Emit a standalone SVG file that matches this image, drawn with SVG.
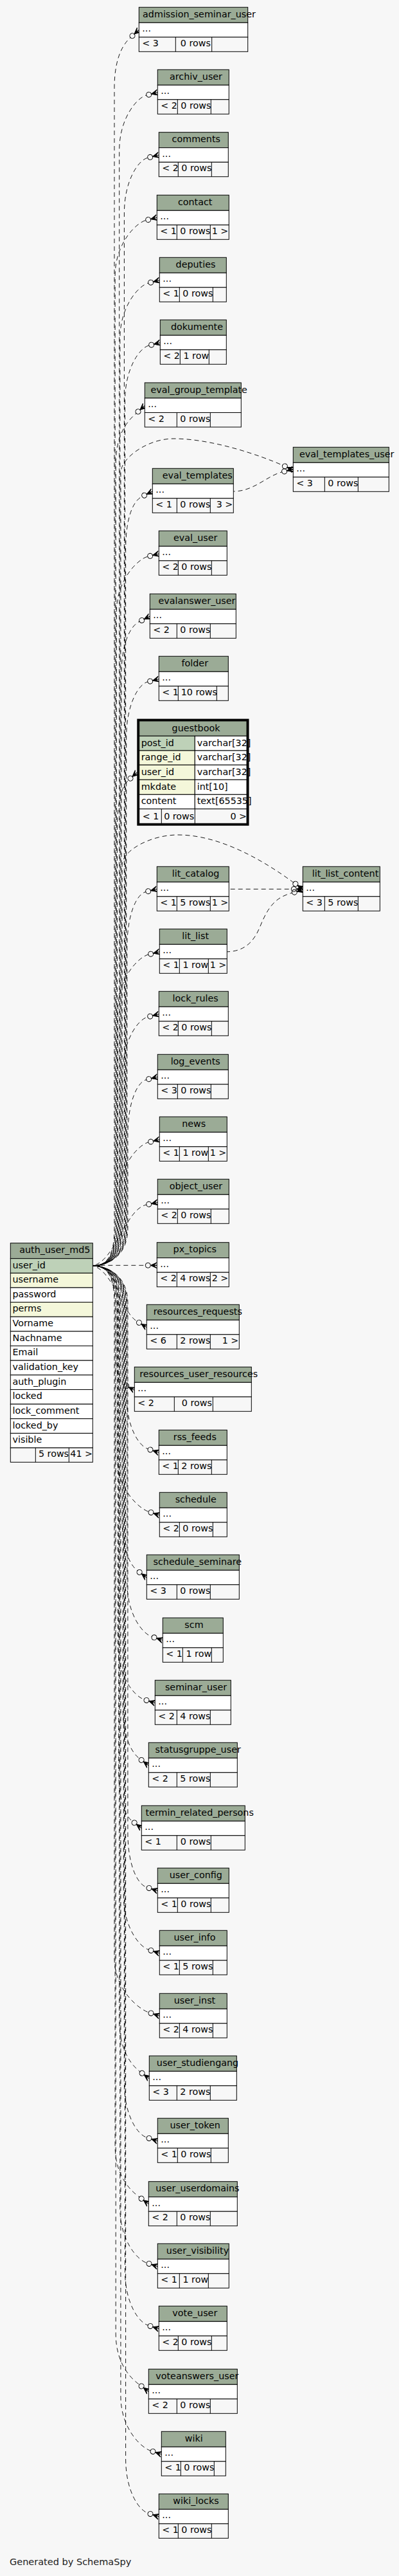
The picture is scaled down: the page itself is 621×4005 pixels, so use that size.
<svg xmlns="http://www.w3.org/2000/svg" width="621" height="4005" viewBox="0 0 621 4005">
<defs>
<style>
.hd{fill:#9bab96;stroke:#000;stroke-width:1}
.bd{fill:#fff;stroke:#000;stroke-width:1}
.ft{fill:#f7f7f7;stroke:#000;stroke-width:1}
.pk{fill:#bed1b8;stroke:#000;stroke-width:1}
.ix{fill:#f4f7da;stroke:#000;stroke-width:1}
.dv{fill:none;stroke:#000;stroke-width:1}
text{font-family:"DejaVu Sans","Liberation Sans",sans-serif;font-size:14.3px;fill:#000}
.m{text-anchor:middle}
.r{text-anchor:end}
.e{fill:none;stroke:#000;stroke-width:0.9;stroke-dasharray:7,5;marker-end:url(#cf)}
#connectors path:nth-child(5n+1){stroke-dashoffset:0}
#connectors path:nth-child(5n+2){stroke-dashoffset:4.8}
#connectors path:nth-child(5n+3){stroke-dashoffset:9.6}
#connectors path:nth-child(5n+4){stroke-dashoffset:2.4}
#connectors path:nth-child(5n){stroke-dashoffset:7.2}
</style>
<marker id="cf" viewBox="-1 -6 21 12" markerWidth="21" markerHeight="12" refX="0" refY="0" orient="auto" markerUnits="userSpaceOnUse" overflow="visible">
<circle cx="4" cy="0" r="4" fill="none" stroke="#000" stroke-width="1" stroke-dasharray="none"/>
<polygon points="8,0 18,-4.5 13,0 18,0 13,0 18,4.5" fill="#000" stroke="#000" stroke-width="1" stroke-dasharray="none"/>
</marker>
</defs>
<rect width="621" height="4005" fill="#f7f7f7"/>

<g id="connectors">
<path class="e" d="M144.3,1968 C165,1968 178,1955 178,1910 L178,136.3 C178,86.3 194.1,66.4 203,58.4"/>
<path class="e" d="M144.3,1968 C165,1968 185.7,1955 185.7,1910 L185.7,233.8 C185.7,183.8 213.3,151.7 227.8,148.1"/>
<path class="e" d="M144.3,1968 C165,1968 193.4,1955 193.4,1910 L193.4,331 C193.4,281 215.3,248.9 229.8,245.3"/>
<path class="e" d="M144.3,1968 C165,1968 179.1,1955 179.1,1910 L179.1,428.3 C179.1,378.3 212.3,346.2 226.8,342.6"/>
<path class="e" d="M144.3,1968 C165,1968 186.8,1955 186.8,1910 L186.8,525.8 C186.8,475.8 216.3,443.7 230.8,440.1"/>
<path class="e" d="M144.3,1968 C165,1968 194.5,1955 194.5,1910 L194.5,622.8 C194.5,572.8 217.3,540.7 231.8,537.1"/>
<path class="e" d="M144.3,1968 C165,1968 180.2,1955 180.2,1910 L180.2,720.5 C180.2,670.5 203.1,650.6 212,642.6"/>
<path class="e" d="M144.3,1968 C165,1968 187.9,1955 187.9,1910 L187.9,735 C187.9,712 230,682 270,682 C330,682 405,708 439.7,723.3"/>
<path class="e" d="M144.3,1968 C165,1968 195.6,1955 195.6,1910 L195.6,854 C195.6,804 207.6,778.5 221.1,771.9"/>
<path class="e" d="M144.3,1968 C165,1968 181.3,1955 181.3,1910 L181.3,951 C181.3,901 215.3,868.9 229.8,865.3"/>
<path class="e" d="M144.3,1968 C165,1968 189,1955 189,1910 L189,1048.3 C189,998.3 203.6,972.8 217.1,966.2"/>
<path class="e" d="M144.3,1968 C165,1968 196.7,1955 196.7,1910 L196.7,1145.8 C196.7,1095.8 215.3,1063.7 229.8,1060.1"/>
<path class="e" d="M144.3,1968 C165,1968 182.4,1955 182.4,1910 L182.4,1290.8 C182.4,1240.8 191.1,1220.9 200,1212.9"/>
<path class="e" d="M144.3,1968 C165,1968 190.1,1955 190.1,1910 L190.1,1345 C190.1,1322 235,1298 277,1298 C355,1298 433.5,1355.5 456.6,1371.9"/>
<path class="e" d="M144.3,1968 C165,1968 197.8,1955 197.8,1910 L197.8,1472.3 C197.8,1422.3 212.3,1390.2 226.8,1386.6"/>
<path class="e" d="M144.3,1968 C165,1968 183.5,1955 183.5,1910 L183.5,1569.8 C183.5,1519.8 216.3,1487.7 230.8,1484.1"/>
<path class="e" d="M144.3,1968 C165,1968 191.2,1955 191.2,1910 L191.2,1666.8 C191.2,1616.8 215.3,1584.7 229.8,1581.1"/>
<path class="e" d="M144.3,1968 C165,1968 198.9,1955 198.9,1910 L198.9,1764.3 C198.9,1714.3 213.3,1682.2 227.8,1678.6"/>
<path class="e" d="M144.3,1968 C165,1968 184.6,1955 184.6,1910 L184.6,1861.7 C184.6,1811.7 216.3,1779.6 230.8,1776"/>
<path class="e" d="M144.3,1968 C180,1960 195,1880 227.8,1873.1"/>
<path class="e" d="M144.3,1967.3 L226.3,1967.3"/>
<path class="e" d="M144.3,1968 C175,1975 190,2040 213,2054.2"/>
<path class="e" d="M144.3,1968 C165,1968 182,1981 182,2026 L182,2100 C182,2125 180,2146 193.1,2152.9"/>
<path class="e" d="M144.3,1968 C165,1968 196.7,1981 196.7,2026 L196.7,2168.3 C196.7,2218.3 216,2248 230.2,2252.7"/>
<path class="e" d="M144.3,1968 C165,1968 182.4,1981 182.4,2026 L182.4,2265.8 C182.4,2315.8 217,2345.6 231.2,2350.2"/>
<path class="e" d="M144.3,1968 C165,1968 190.1,1981 190.1,2026 L190.1,2362.8 C190.1,2412.8 204.3,2434.8 213.9,2442"/>
<path class="e" d="M144.3,1968 C165,1968 197.8,1981 197.8,2026 L197.8,2460.2 C197.8,2510.2 222,2540 236.2,2544.6"/>
<path class="e" d="M144.3,1968 C165,1968 183.5,1981 183.5,2026 L183.5,2557.8 C183.5,2607.8 210,2637.6 224.2,2642.2"/>
<path class="e" d="M144.3,1968 C165,1968 191.2,1981 191.2,2026 L191.2,2654.8 C191.2,2704.8 207.3,2726.8 216.9,2734"/>
<path class="e" d="M144.3,1968 C165,1968 184.6,1981 184.6,2026 L184.6,2752.3 C184.6,2802.3 196.3,2824.3 205.9,2831.5"/>
<path class="e" d="M144.3,1968 C165,1968 198.9,1981 198.9,2026 L198.9,2849.8 C198.9,2899.8 214,2929.6 228.2,2934.2"/>
<path class="e" d="M144.3,1968 C165,1968 192.3,1981 192.3,2026 L192.3,2946.8 C192.3,2996.8 217,3026.6 231.2,3031.2"/>
<path class="e" d="M144.3,1968 C165,1968 178,1981 178,2026 L178,3044.3 C178,3094.3 217,3124.1 231.2,3128.7"/>
<path class="e" d="M144.3,1968 C165,1968 185.7,1981 185.7,2026 L185.7,3141.7 C185.7,3191.7 208.3,3213.7 217.9,3220.9"/>
<path class="e" d="M144.3,1968 C165,1968 193.4,1981 193.4,2026 L193.4,3238.8 C193.4,3288.8 214,3318.6 228.2,3323.2"/>
<path class="e" d="M144.3,1968 C165,1968 179.1,1981 179.1,2026 L179.1,3336.7 C179.1,3386.7 207.3,3408.7 216.9,3415.9"/>
<path class="e" d="M144.3,1968 C165,1968 186.8,1981 186.8,2026 L186.8,3433.8 C186.8,3483.8 214,3513.6 228.2,3518.2"/>
<path class="e" d="M144.3,1968 C165,1968 194.5,1981 194.5,2026 L194.5,3530.8 C194.5,3580.8 216,3610.6 230.2,3615.2"/>
<path class="e" d="M144.3,1968 C165,1968 180.2,1981 180.2,2026 L180.2,3628.3 C180.2,3678.3 207.3,3700.3 216.9,3707.5"/>
<path class="e" d="M144.3,1968 C165,1968 187.9,1981 187.9,2026 L187.9,3725.8 C187.9,3775.8 220,3805.6 234.2,3810.2"/>
<path class="e" d="M144.3,1968 C165,1968 195.6,1981 195.6,2026 L195.6,3822.8 C195.6,3872.8 216,3902.6 230.2,3907.2"/>
<path class="e" d="M363.3,764 C395,764 415,740 438.7,733.9"/>
<path class="e" d="M356.3,1382.3 L453.3,1382.3"/>
<path class="e" d="M353.3,1479.8 C380,1479 395,1465 405,1440 C418,1408 430,1395 454.4,1388.2"/>
</g>

<g id="auth_user_md5">
<rect class="hd" x="16.3" y="1932.7" width="128" height="24"/>
<rect class="pk" x="16.3" y="1956.7" width="128" height="22.64"/>
<rect class="ix" x="16.3" y="1979.34" width="128" height="22.64"/>
<rect class="bd" x="16.3" y="2001.98" width="128" height="22.64"/>
<rect class="ix" x="16.3" y="2024.62" width="128" height="22.64"/>
<rect class="bd" x="16.3" y="2047.26" width="128" height="22.64"/>
<rect class="bd" x="16.3" y="2069.9" width="128" height="22.64"/>
<rect class="bd" x="16.3" y="2092.54" width="128" height="22.64"/>
<rect class="bd" x="16.3" y="2115.18" width="128" height="22.64"/>
<rect class="bd" x="16.3" y="2137.82" width="128" height="22.64"/>
<rect class="bd" x="16.3" y="2160.46" width="128" height="22.64"/>
<rect class="bd" x="16.3" y="2183.1" width="128" height="22.64"/>
<rect class="bd" x="16.3" y="2205.74" width="128" height="22.64"/>
<rect class="bd" x="16.3" y="2228.38" width="128" height="22.64"/>
<rect class="ft" x="16.3" y="2251.02" width="128" height="22.3"/>
<path class="dv" d="M55.3,2251V2273.3M107.3,2251V2273.3"/>
<text class="m" x="85.3" y="1948.2">auth_user_md5</text>
<text x="19.5" y="1971.5">user_id</text>
<text x="19.5" y="1994.1">username</text>
<text x="19.5" y="2016.8">password</text>
<text x="19.5" y="2039.4">perms</text>
<text x="19.5" y="2062.1">Vorname</text>
<text x="19.5" y="2084.7">Nachname</text>
<text x="19.5" y="2107.3">Email</text>
<text x="19.5" y="2130">validation_key</text>
<text x="19.5" y="2152.6">auth_plugin</text>
<text x="19.5" y="2175.3">locked</text>
<text x="19.5" y="2197.9">lock_comment</text>
<text x="19.5" y="2220.5">locked_by</text>
<text x="19.5" y="2243.2">visible</text>
<text class="m" x="83.5" y="2265.3">5 rows</text>
<text class="r" x="144" y="2265.3">41 &gt;</text>
</g>

<g id="guestbook">
<rect class="hd" x="216.7" y="1121" width="167.3" height="23.3"/>
<rect class="pk" x="216.7" y="1144.3" width="86.6" height="22.7"/>
<rect class="bd" x="303.3" y="1144.3" width="80.7" height="22.7"/>
<rect class="ix" x="216.7" y="1167" width="86.6" height="22.3"/>
<rect class="bd" x="303.3" y="1167" width="80.7" height="22.3"/>
<rect class="ix" x="216.7" y="1189.3" width="86.6" height="23"/>
<rect class="bd" x="303.3" y="1189.3" width="80.7" height="23"/>
<rect class="ix" x="216.7" y="1212.3" width="86.6" height="23"/>
<rect class="bd" x="303.3" y="1212.3" width="80.7" height="23"/>
<rect class="bd" x="216.7" y="1235.3" width="86.6" height="22.4"/>
<rect class="bd" x="303.3" y="1235.3" width="80.7" height="22.4"/>
<rect class="ft" x="216.7" y="1257.7" width="167.3" height="22.6"/>
<path class="dv" d="M251.3,1257.7V1280.3M303.3,1257.7V1280.3"/>
<text class="m" x="305" y="1136.5">guestbook</text>
<text x="219.7" y="1159.5">post_id</text>
<text x="306.7" y="1159.5">varchar[32]</text>
<text x="219.7" y="1182">range_id</text>
<text x="306.7" y="1182">varchar[32]</text>
<text x="219.7" y="1204.5">user_id</text>
<text x="306.7" y="1204.5">varchar[32]</text>
<text x="219.7" y="1227.5">mkdate</text>
<text x="306.7" y="1227.5">int[10]</text>
<text x="219.7" y="1250">content</text>
<text x="306.7" y="1250">text[65535]</text>
<text x="221.7" y="1273.5">&lt; 1</text>
<text class="m" x="278.7" y="1273.5">0 rows</text>
<text class="r" x="384" y="1273.5">0 &gt;</text>
<rect x="215" y="1119.3" width="170.8" height="162.7" fill="none" stroke="#000" stroke-width="3.4"/>
</g>

<g id="admission_seminar_user" transform="translate(216.3,11.3)"><rect class="hd" width="169.4" height="24"/><rect class="bd" y="24" width="169.4" height="22.5"/><rect class="ft" y="46.5" width="169.4" height="22.5"/><path class="dv" d="M57,46.5V69M113.4,46.5V69"/><text class="m" x="93.7" y="15.5">admission_seminar_user</text><text x="5" y="38">...</text><text x="5" y="60.5">&lt; 3</text><text class="m" x="88" y="60.5">0 rows</text></g>
<g id="archiv_user" transform="translate(245.3,108.3)"><rect class="hd" width="111" height="24"/><rect class="bd" y="24" width="111" height="22.5"/><rect class="ft" y="46.5" width="111" height="22.5"/><path class="dv" d="M31,46.5V69M83,46.5V69"/><text class="m" x="59.7" y="15.5">archiv_user</text><text x="5" y="38">...</text><text x="5" y="60.5">&lt; 2</text><text class="m" x="59.5" y="60.5">0 rows</text></g>
<g id="comments" transform="translate(247.3,205.7)"><rect class="hd" width="108" height="24"/><rect class="bd" y="24" width="108" height="22.5"/><rect class="ft" y="46.5" width="108" height="22.5"/><path class="dv" d="M30,46.5V69M82,46.5V69"/><text class="m" x="58" y="15.5">comments</text><text x="5" y="38">...</text><text x="5" y="60.5">&lt; 2</text><text class="m" x="58.5" y="60.5">0 rows</text></g>
<g id="contact" transform="translate(244.3,303.3)"><rect class="hd" width="112" height="24"/><rect class="bd" y="24" width="112" height="22.5"/><rect class="ft" y="46.5" width="112" height="22.5"/><path class="dv" d="M31,46.5V69M83,46.5V69"/><text class="m" x="59.4" y="15.5">contact</text><text x="5" y="38">...</text><text x="5" y="60.5">&lt; 1</text><text class="m" x="59.5" y="60.5">0 rows</text><text class="r" x="111" y="60.5">1 &gt;</text></g>
<g id="deputies" transform="translate(248.3,400.3)"><rect class="hd" width="104" height="24"/><rect class="bd" y="24" width="104" height="22.5"/><rect class="ft" y="46.5" width="104" height="22.5"/><path class="dv" d="M31,46.5V69M83,46.5V69"/><text class="m" x="56.2" y="15.5">deputies</text><text x="5" y="38">...</text><text x="5" y="60.5">&lt; 1</text><text class="m" x="59.5" y="60.5">0 rows</text></g>
<g id="dokumente" transform="translate(249.3,497.3)"><rect class="hd" width="103" height="24"/><rect class="bd" y="24" width="103" height="22.5"/><rect class="ft" y="46.5" width="103" height="22.5"/><path class="dv" d="M31,46.5V69M76,46.5V69"/><text class="m" x="57.2" y="15.5">dokumente</text><text x="5" y="38">...</text><text x="5" y="60.5">&lt; 2</text><text class="m" x="56" y="60.5">1 row</text></g>
<g id="eval_group_template" transform="translate(225.3,595)"><rect class="hd" width="150" height="24"/><rect class="bd" y="24" width="150" height="22.5"/><rect class="ft" y="46.5" width="150" height="22.5"/><path class="dv" d="M50,46.5V69M102,46.5V69"/><text class="m" x="84.4" y="15.5">eval_group_template</text><text x="5" y="38">...</text><text x="5" y="60.5">&lt; 2</text><text class="m" x="78.5" y="60.5">0 rows</text></g>
<g id="eval_templates_user" transform="translate(456.3,695.3)"><rect class="hd" width="149" height="24"/><rect class="bd" y="24" width="149" height="22.5"/><rect class="ft" y="46.5" width="149" height="22.5"/><path class="dv" d="M49,46.5V69M101,46.5V69"/><text class="m" x="83.4" y="15.5">eval_templates_user</text><text x="5" y="38">...</text><text x="5" y="60.5">&lt; 3</text><text class="m" x="77.5" y="60.5">0 rows</text></g>
<g id="eval_templates" transform="translate(237.3,728.3)"><rect class="hd" width="126" height="24"/><rect class="bd" y="24" width="126" height="22.5"/><rect class="ft" y="46.5" width="126" height="22.5"/><path class="dv" d="M38,46.5V69M90,46.5V69"/><text class="m" x="69.9" y="15.5">eval_templates</text><text x="5" y="38">...</text><text x="5" y="60.5">&lt; 1</text><text class="m" x="66.5" y="60.5">0 rows</text><text class="r" x="125" y="60.5">3 &gt;</text></g>
<g id="eval_user" transform="translate(247.3,825.3)"><rect class="hd" width="106" height="24"/><rect class="bd" y="24" width="106" height="22.5"/><rect class="ft" y="46.5" width="106" height="22.5"/><path class="dv" d="M30,46.5V69M82,46.5V69"/><text class="m" x="56.9" y="15.5">eval_user</text><text x="5" y="38">...</text><text x="5" y="60.5">&lt; 2</text><text class="m" x="58.5" y="60.5">0 rows</text></g>
<g id="evalanswer_user" transform="translate(233.3,923.3)"><rect class="hd" width="134" height="24"/><rect class="bd" y="24" width="134" height="22.5"/><rect class="ft" y="46.5" width="134" height="22.5"/><path class="dv" d="M42,46.5V69M94,46.5V69"/><text class="m" x="73.2" y="15.5">evalanswer_user</text><text x="5" y="38">...</text><text x="5" y="60.5">&lt; 2</text><text class="m" x="70.5" y="60.5">0 rows</text></g>
<g id="folder" transform="translate(247.3,1020.3)"><rect class="hd" width="108" height="24"/><rect class="bd" y="24" width="108" height="22.5"/><rect class="ft" y="46.5" width="108" height="22.5"/><path class="dv" d="M30,46.5V69M90,46.5V69"/><text class="m" x="56" y="15.5">folder</text><text x="5" y="38">...</text><text x="5" y="60.5">&lt; 1</text><text class="m" x="62.5" y="60.5">10 rows</text></g>
<g id="lit_catalog" transform="translate(244.3,1347.3)"><rect class="hd" width="112" height="24"/><rect class="bd" y="24" width="112" height="22.5"/><rect class="ft" y="46.5" width="112" height="22.5"/><path class="dv" d="M31,46.5V69M83,46.5V69"/><text class="m" x="60.2" y="15.5">lit_catalog</text><text x="5" y="38">...</text><text x="5" y="60.5">&lt; 1</text><text class="m" x="59.5" y="60.5">5 rows</text><text class="r" x="111" y="60.5">1 &gt;</text></g>
<g id="lit_list_content" transform="translate(471.3,1347.3)"><rect class="hd" width="120" height="24"/><rect class="bd" y="24" width="120" height="22.5"/><rect class="ft" y="46.5" width="120" height="22.5"/><path class="dv" d="M34,46.5V69M86,46.5V69"/><text class="m" x="66.2" y="15.5">lit_list_content</text><text x="5" y="38">...</text><text x="5" y="60.5">&lt; 3</text><text class="m" x="62.5" y="60.5">5 rows</text></g>
<g id="lit_list" transform="translate(248.3,1444.3)"><rect class="hd" width="105" height="24"/><rect class="bd" y="24" width="105" height="22.5"/><rect class="ft" y="46.5" width="105" height="22.5"/><path class="dv" d="M31,46.5V69M76,46.5V69"/><text class="m" x="55.9" y="15.5">lit_list</text><text x="5" y="38">...</text><text x="5" y="60.5">&lt; 1</text><text class="m" x="56" y="60.5">1 row</text><text class="r" x="104" y="60.5">1 &gt;</text></g>
<g id="lock_rules" transform="translate(247.3,1541.3)"><rect class="hd" width="108" height="24"/><rect class="bd" y="24" width="108" height="22.5"/><rect class="ft" y="46.5" width="108" height="22.5"/><path class="dv" d="M30,46.5V69M82,46.5V69"/><text class="m" x="56.9" y="15.5">lock_rules</text><text x="5" y="38">...</text><text x="5" y="60.5">&lt; 2</text><text class="m" x="58.5" y="60.5">0 rows</text></g>
<g id="log_events" transform="translate(245.3,1639.3)"><rect class="hd" width="110" height="24"/><rect class="bd" y="24" width="110" height="22.5"/><rect class="ft" y="46.5" width="110" height="22.5"/><path class="dv" d="M31,46.5V69M83,46.5V69"/><text class="m" x="58.9" y="15.5">log_events</text><text x="5" y="38">...</text><text x="5" y="60.5">&lt; 3</text><text class="m" x="59.5" y="60.5">0 rows</text></g>
<g id="news" transform="translate(248.3,1736.3)"><rect class="hd" width="105" height="24"/><rect class="bd" y="24" width="105" height="22.5"/><rect class="ft" y="46.5" width="105" height="22.5"/><path class="dv" d="M31,46.5V69M76,46.5V69"/><text class="m" x="53.4" y="15.5">news</text><text x="5" y="38">...</text><text x="5" y="60.5">&lt; 1</text><text class="m" x="56" y="60.5">1 row</text><text class="r" x="104" y="60.5">1 &gt;</text></g>
<g id="object_user" transform="translate(245.3,1833.3)"><rect class="hd" width="111" height="24"/><rect class="bd" y="24" width="111" height="22.5"/><rect class="ft" y="46.5" width="111" height="22.5"/><path class="dv" d="M31,46.5V69M83,46.5V69"/><text class="m" x="59.7" y="15.5">object_user</text><text x="5" y="38">...</text><text x="5" y="60.5">&lt; 2</text><text class="m" x="59.5" y="60.5">0 rows</text></g>
<g id="px_topics" transform="translate(244.3,1931.7)"><rect class="hd" width="112" height="24"/><rect class="bd" y="24" width="112" height="22.5"/><rect class="ft" y="46.5" width="112" height="22.5"/><path class="dv" d="M31,46.5V69M83,46.5V69"/><text class="m" x="59" y="15.5">px_topics</text><text x="5" y="38">...</text><text x="5" y="60.5">&lt; 2</text><text class="m" x="59.5" y="60.5">4 rows</text><text class="r" x="111" y="60.5">2 &gt;</text></g>
<g id="resources_requests" transform="translate(228.3,2028.3)"><rect class="hd" width="144" height="24"/><rect class="bd" y="24" width="144" height="22.5"/><rect class="ft" y="46.5" width="144" height="22.5"/><path class="dv" d="M47,46.5V69M99,46.5V69"/><text class="m" x="79.5" y="15.5">resources_requests</text><text x="5" y="38">...</text><text x="5" y="60.5">&lt; 6</text><text class="m" x="75.5" y="60.5">2 rows</text><text class="r" x="143" y="60.5">1 &gt;</text></g>
<g id="resources_user_resources" transform="translate(209.3,2125.3)"><rect class="hd" width="182" height="24"/><rect class="bd" y="24" width="182" height="22.5"/><rect class="ft" y="46.5" width="182" height="22.5"/><path class="dv" d="M62,46.5V69M122,46.5V69"/><text class="m" x="99.9" y="15.5">resources_user_resources</text><text x="5" y="38">...</text><text x="5" y="60.5">&lt; 2</text><text class="m" x="97" y="60.5">0 rows</text></g>
<g id="rss_feeds" transform="translate(247.3,2223.3)"><rect class="hd" width="106" height="24"/><rect class="bd" y="24" width="106" height="22.5"/><rect class="ft" y="46.5" width="106" height="22.5"/><path class="dv" d="M30,46.5V69M82,46.5V69"/><text class="m" x="56" y="15.5">rss_feeds</text><text x="5" y="38">...</text><text x="5" y="60.5">&lt; 1</text><text class="m" x="58.5" y="60.5">2 rows</text></g>
<g id="schedule" transform="translate(248.3,2320.3)"><rect class="hd" width="105" height="24"/><rect class="bd" y="24" width="105" height="22.5"/><rect class="ft" y="46.5" width="105" height="22.5"/><path class="dv" d="M31,46.5V69M83,46.5V69"/><text class="m" x="56.4" y="15.5">schedule</text><text x="5" y="38">...</text><text x="5" y="60.5">&lt; 2</text><text class="m" x="59.5" y="60.5">0 rows</text></g>
<g id="schedule_seminare" transform="translate(228.3,2417.3)"><rect class="hd" width="144" height="24"/><rect class="bd" y="24" width="144" height="22.5"/><rect class="ft" y="46.5" width="144" height="22.5"/><path class="dv" d="M47,46.5V69M99,46.5V69"/><text class="m" x="79" y="15.5">schedule_seminare</text><text x="5" y="38">...</text><text x="5" y="60.5">&lt; 3</text><text class="m" x="75.5" y="60.5">0 rows</text></g>
<g id="scm" transform="translate(253.3,2515.3)"><rect class="hd" width="94" height="24"/><rect class="bd" y="24" width="94" height="22.5"/><rect class="ft" y="46.5" width="94" height="22.5"/><path class="dv" d="M31,46.5V69M76,46.5V69"/><text class="m" x="48.7" y="15.5">scm</text><text x="5" y="38">...</text><text x="5" y="60.5">&lt; 1</text><text class="m" x="56" y="60.5">1 row</text></g>
<g id="seminar_user" transform="translate(241.3,2612.3)"><rect class="hd" width="118" height="24"/><rect class="bd" y="24" width="118" height="22.5"/><rect class="ft" y="46.5" width="118" height="22.5"/><path class="dv" d="M34,46.5V69M86,46.5V69"/><text class="m" x="63.7" y="15.5">seminar_user</text><text x="5" y="38">...</text><text x="5" y="60.5">&lt; 2</text><text class="m" x="62.5" y="60.5">4 rows</text></g>
<g id="statusgruppe_user" transform="translate(231.3,2709.3)"><rect class="hd" width="138" height="24"/><rect class="bd" y="24" width="138" height="22.5"/><rect class="ft" y="46.5" width="138" height="22.5"/><path class="dv" d="M44,46.5V69M96,46.5V69"/><text class="m" x="76.9" y="15.5">statusgruppe_user</text><text x="5" y="38">...</text><text x="5" y="60.5">&lt; 2</text><text class="m" x="72.5" y="60.5">5 rows</text></g>
<g id="termin_related_persons" transform="translate(220.3,2807.3)"><rect class="hd" width="161" height="24"/><rect class="bd" y="24" width="161" height="22.5"/><rect class="ft" y="46.5" width="161" height="22.5"/><path class="dv" d="M55,46.5V69M108,46.5V69"/><text class="m" x="90.4" y="15.5">termin_related_persons</text><text x="5" y="38">...</text><text x="5" y="60.5">&lt; 1</text><text class="m" x="84" y="60.5">0 rows</text></g>
<g id="user_config" transform="translate(245.3,2904.3)"><rect class="hd" width="111" height="24"/><rect class="bd" y="24" width="111" height="22.5"/><rect class="ft" y="46.5" width="111" height="22.5"/><path class="dv" d="M31,46.5V69M83,46.5V69"/><text class="m" x="59.5" y="15.5">user_config</text><text x="5" y="38">...</text><text x="5" y="60.5">&lt; 1</text><text class="m" x="59.5" y="60.5">0 rows</text></g>
<g id="user_info" transform="translate(248.3,3001.3)"><rect class="hd" width="105" height="24"/><rect class="bd" y="24" width="105" height="22.5"/><rect class="ft" y="46.5" width="105" height="22.5"/><path class="dv" d="M31,46.5V69M83,46.5V69"/><text class="m" x="54.7" y="15.5">user_info</text><text x="5" y="38">...</text><text x="5" y="60.5">&lt; 1</text><text class="m" x="59.5" y="60.5">5 rows</text></g>
<g id="user_inst" transform="translate(248.3,3099.3)"><rect class="hd" width="105" height="24"/><rect class="bd" y="24" width="105" height="22.5"/><rect class="ft" y="46.5" width="105" height="22.5"/><path class="dv" d="M31,46.5V69M83,46.5V69"/><text class="m" x="54.7" y="15.5">user_inst</text><text x="5" y="38">...</text><text x="5" y="60.5">&lt; 2</text><text class="m" x="59.5" y="60.5">4 rows</text></g>
<g id="user_studiengang" transform="translate(232.3,3196.3)"><rect class="hd" width="136" height="24"/><rect class="bd" y="24" width="136" height="22.5"/><rect class="ft" y="46.5" width="136" height="22.5"/><path class="dv" d="M43,46.5V69M95,46.5V69"/><text class="m" x="75.2" y="15.5">user_studiengang</text><text x="5" y="38">...</text><text x="5" y="60.5">&lt; 3</text><text class="m" x="71.5" y="60.5">2 rows</text></g>
<g id="user_token" transform="translate(245.3,3293.3)"><rect class="hd" width="110" height="24"/><rect class="bd" y="24" width="110" height="22.5"/><rect class="ft" y="46.5" width="110" height="22.5"/><path class="dv" d="M31,46.5V69M83,46.5V69"/><text class="m" x="58.4" y="15.5">user_token</text><text x="5" y="38">...</text><text x="5" y="60.5">&lt; 1</text><text class="m" x="59.5" y="60.5">0 rows</text></g>
<g id="user_userdomains" transform="translate(231.3,3391.7)"><rect class="hd" width="138" height="24"/><rect class="bd" y="24" width="138" height="22.5"/><rect class="ft" y="46.5" width="138" height="22.5"/><path class="dv" d="M44,46.5V69M96,46.5V69"/><text class="m" x="76" y="15.5">user_userdomains</text><text x="5" y="38">...</text><text x="5" y="60.5">&lt; 2</text><text class="m" x="72.5" y="60.5">0 rows</text></g>
<g id="user_visibility" transform="translate(245.3,3488.3)"><rect class="hd" width="111" height="24"/><rect class="bd" y="24" width="111" height="22.5"/><rect class="ft" y="46.5" width="111" height="22.5"/><path class="dv" d="M34,46.5V69M79,46.5V69"/><text class="m" x="62.2" y="15.5">user_visibility</text><text x="5" y="38">...</text><text x="5" y="60.5">&lt; 1</text><text class="m" x="59" y="60.5">1 row</text></g>
<g id="vote_user" transform="translate(247.3,3585.3)"><rect class="hd" width="106" height="24"/><rect class="bd" y="24" width="106" height="22.5"/><rect class="ft" y="46.5" width="106" height="22.5"/><path class="dv" d="M30,46.5V69M82,46.5V69"/><text class="m" x="56" y="15.5">vote_user</text><text x="5" y="38">...</text><text x="5" y="60.5">&lt; 2</text><text class="m" x="58.5" y="60.5">0 rows</text></g>
<g id="voteanswers_user" transform="translate(231.3,3683.3)"><rect class="hd" width="138" height="24"/><rect class="bd" y="24" width="138" height="22.5"/><rect class="ft" y="46.5" width="138" height="22.5"/><path class="dv" d="M44,46.5V69M96,46.5V69"/><text class="m" x="75.5" y="15.5">voteanswers_user</text><text x="5" y="38">...</text><text x="5" y="60.5">&lt; 2</text><text class="m" x="72.5" y="60.5">0 rows</text></g>
<g id="wiki" transform="translate(251.3,3780.3)"><rect class="hd" width="100" height="24"/><rect class="bd" y="24" width="100" height="22.5"/><rect class="ft" y="46.5" width="100" height="22.5"/><path class="dv" d="M30,46.5V69M82,46.5V69"/><text class="m" x="50.4" y="15.5">wiki</text><text x="5" y="38">...</text><text x="5" y="60.5">&lt; 1</text><text class="m" x="58.5" y="60.5">0 rows</text></g>
<g id="wiki_locks" transform="translate(247.3,3877.3)"><rect class="hd" width="108" height="24"/><rect class="bd" y="24" width="108" height="22.5"/><rect class="ft" y="46.5" width="108" height="22.5"/><path class="dv" d="M30,46.5V69M82,46.5V69"/><text class="m" x="57.7" y="15.5">wiki_locks</text><text x="5" y="38">...</text><text x="5" y="60.5">&lt; 1</text><text class="m" x="58.5" y="60.5">0 rows</text></g>

<text x="15" y="3988" style="font-size:14.5px;fill:#222">Generated by SchemaSpy</text>
</svg>
